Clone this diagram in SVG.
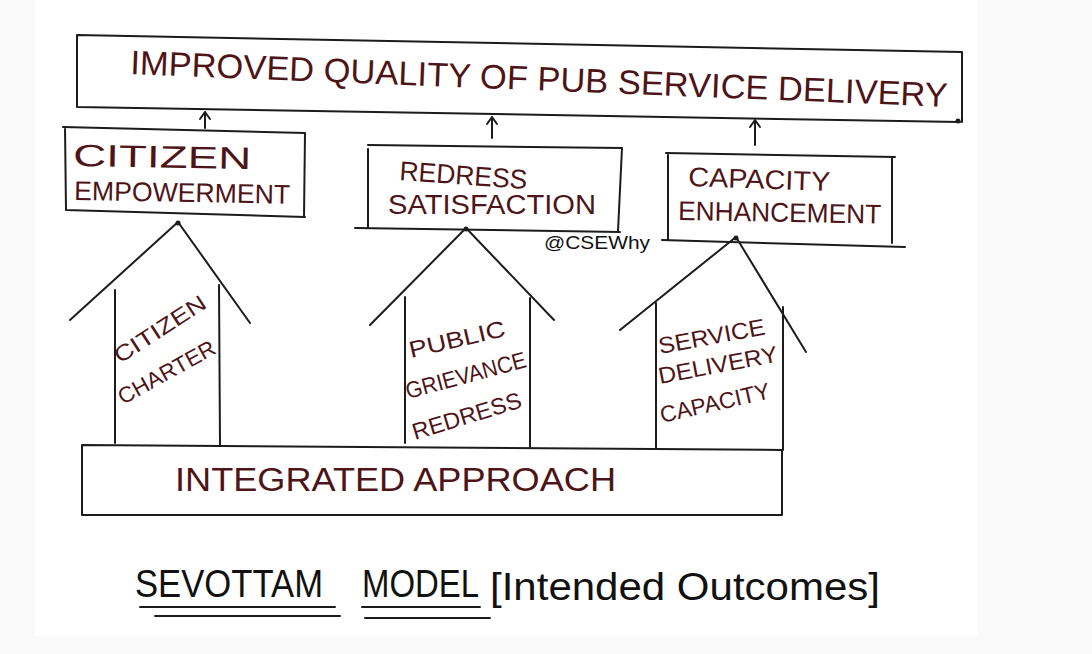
<svg xmlns="http://www.w3.org/2000/svg" width="1092" height="654" viewBox="0 0 1092 654">
<style>
.ln{fill:none;stroke:#1c1c1c;stroke-width:2;stroke-linecap:round;stroke-linejoin:round}
.hd{font-family:"Liberation Sans",Arial,sans-serif;fill:#4e1518;font-weight:normal}
.ti{font-family:"Liberation Sans",Arial,sans-serif;fill:#111}
.wm{font-family:"Liberation Sans",Arial,sans-serif;fill:#111;font-size:19px}
</style>
<rect width="1092" height="654" fill="#f9f9f9"/>
<rect x="35" y="0" width="943" height="636" fill="#ffffff"/>

<g id="outcome">
<path class="ln" d="M77,35 L962,52 M77,35 L77,107 M77,107 L960,122 M962,52 L962,122"/>
<circle cx="958" cy="121" r="2.5" fill="#1c1c1c"/>
<text class="hd" font-size="34" x="130" y="74" textLength="818" lengthAdjust="spacingAndGlyphs" transform="rotate(2.3 130 74)">IMPROVED QUALITY OF PUB SERVICE DELIVERY</text>
</g>

<g id="connectors">
<path class="ln" d="M205,128 L205,112 M200,119 L205,112 L210,119"/>
<path class="ln" d="M492,138 L492,117 M487,124 L492,117 L497,124"/>
<path class="ln" d="M755,145 L755,120 M750,127 L755,120 L760,127"/>
</g>

<g id="citizen-empowerment">
<path class="ln" d="M63,127 L305,133 M65,127 L66,210 M66,210 L305,217 M305,133 L304,217"/>
<text class="hd" font-size="31" x="73" y="166" textLength="178" lengthAdjust="spacingAndGlyphs" transform="rotate(1 73 166)">CITIZEN</text>
<text class="hd" font-size="27" x="74" y="200" textLength="216" lengthAdjust="spacingAndGlyphs" transform="rotate(1 74 200)">EMPOWERMENT</text>
</g>

<g id="redress-satisfaction">
<path class="ln" d="M368,145 L622,148 M368,149 L368,228 M355,228 L620,232 M622,148 L618,231"/>
<text class="hd" font-size="27" x="399" y="180" textLength="128" lengthAdjust="spacingAndGlyphs" transform="rotate(4 399 180)">REDRESS</text>
<text class="hd" font-size="27" x="388" y="214" textLength="208" lengthAdjust="spacingAndGlyphs">SATISFACTION</text>
</g>

<text class="wm" x="544" y="249" textLength="106" lengthAdjust="spacingAndGlyphs">@CSEWhy</text>

<g id="capacity-enhancement">
<path class="ln" d="M666,153 L895,157 M668,154 L668,240 M662,240 L905,247 M892,157 L892,243"/>
<text class="hd" font-size="27" x="688" y="186" textLength="142" lengthAdjust="spacingAndGlyphs" transform="rotate(2 688 186)">CAPACITY</text>
<text class="hd" font-size="27" x="678" y="220" textLength="203" lengthAdjust="spacingAndGlyphs" transform="rotate(1 678 220)">ENHANCEMENT</text>
</g>

<g id="citizen-charter">
<path class="ln" d="M70,320 L178,222 L250,323 M115,290 L115,443 M219,285 L220,445"/>
<circle cx="178" cy="223" r="2.5" fill="#1c1c1c"/>
<text class="hd" font-size="22" x="120" y="364" textLength="105" lengthAdjust="spacingAndGlyphs" transform="rotate(-33 120 364)">CITIZEN</text>
<text class="hd" font-size="22" x="123" y="405" textLength="108" lengthAdjust="spacingAndGlyphs" transform="rotate(-29 123 405)">CHARTER</text>
</g>

<g id="public-grievance-redress">
<path class="ln" d="M370,325 L466,228 L554,320 M405,297 L405,443 M530,298 L530,447"/>
<circle cx="466" cy="229" r="2.5" fill="#1c1c1c"/>
<text class="hd" font-size="23" x="411" y="358" textLength="98" lengthAdjust="spacingAndGlyphs" transform="rotate(-13 411 358)">PUBLIC</text>
<text class="hd" font-size="23" x="408" y="399" textLength="124" lengthAdjust="spacingAndGlyphs" transform="rotate(-15 408 399)">GRIEVANCE</text>
<text class="hd" font-size="23" x="415" y="440" textLength="113" lengthAdjust="spacingAndGlyphs" transform="rotate(-17 415 440)">REDRESS</text>
</g>

<g id="service-delivery-capacity">
<path class="ln" d="M620,330 L736,237 L806,352 M656,303 L656,448 M783,307 L783,450"/>
<circle cx="736" cy="238" r="2.5" fill="#1c1c1c"/>
<text class="hd" font-size="23" x="660" y="354" textLength="108" lengthAdjust="spacingAndGlyphs" transform="rotate(-10.5 660 354)">SERVICE</text>
<text class="hd" font-size="23" x="660" y="384" textLength="121" lengthAdjust="spacingAndGlyphs" transform="rotate(-10.8 660 384)">DELIVERY</text>
<text class="hd" font-size="23" x="662" y="423" textLength="112" lengthAdjust="spacingAndGlyphs" transform="rotate(-12.8 662 423)">CAPACITY</text>
</g>

<g id="integrated-approach">
<path class="ln" d="M82,445 L782,450 M82,445 L82,515 M82,515 L782,515 M782,450 L782,515"/>
<text class="hd" font-size="34" x="175" y="491" textLength="441" lengthAdjust="spacingAndGlyphs">INTEGRATED APPROACH</text>
</g>

<g id="title">
<text class="ti" font-size="38" x="135" y="597" textLength="188" lengthAdjust="spacingAndGlyphs">SEVOTTAM</text>
<text class="ti" font-size="38" x="362" y="597" textLength="117" lengthAdjust="spacingAndGlyphs">MODEL</text>
<text class="ti" font-size="38" x="490" y="600" textLength="390" lengthAdjust="spacingAndGlyphs">[Intended Outcomes]</text>
<path class="ln" d="M140,607 L335,607 M155,616 L340,616 M362,607 L480,607 M365,618 L490,618"/>
</g>
</svg>
